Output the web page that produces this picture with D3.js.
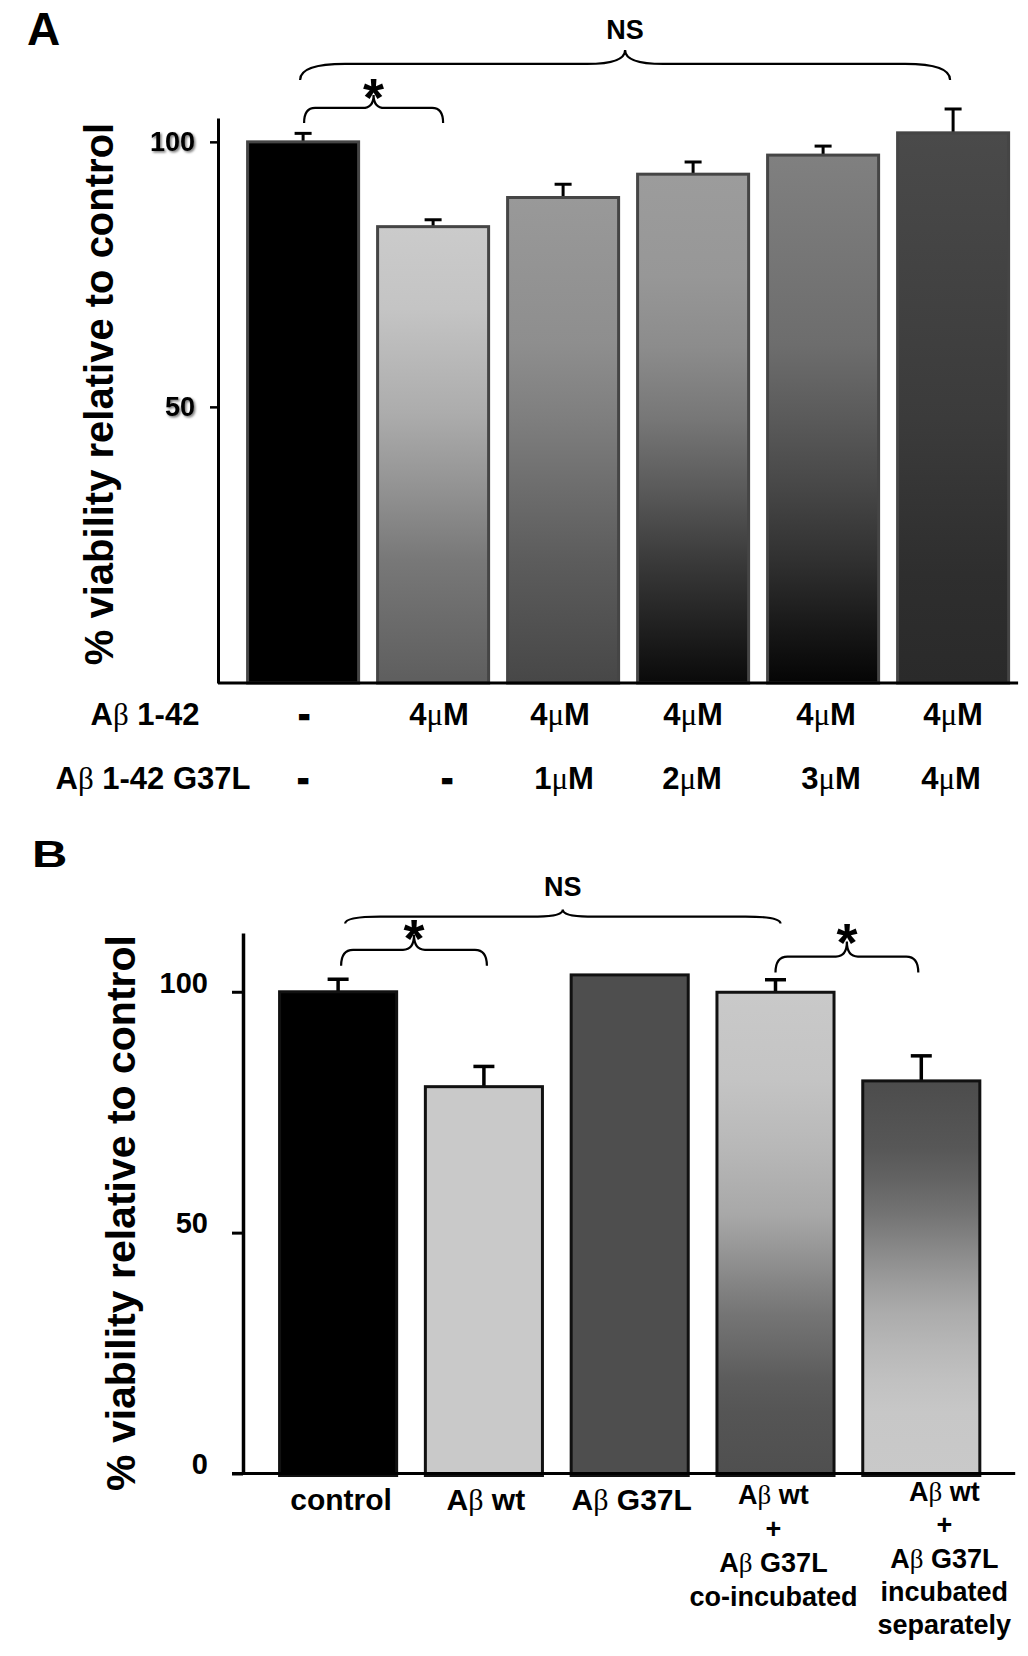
<!DOCTYPE html>
<html><head><meta charset="utf-8">
<script src="https://cdn.jsdelivr.net/npm/d3@7"></script>
<style>
html,body{margin:0;padding:0;background:#fff;}
svg{display:block;}
text{font-family:"Liberation Sans",Arial,Helvetica,sans-serif;font-weight:bold;fill:#000;}
tspan.greek{font-family:"Liberation Serif","Times New Roman",serif;font-weight:normal;}
</style></head><body>
<script>
// ---------------- DATA ----------------
// Panel A
const categoriesA = ["c0","c1","c2","c3","c4","c5"];
const valuesA = [100, 84.0, 89.5, 93.9, 97.5, 101.7];
const errorsA = [1.6, 1.3, 2.5, 2.3, 1.7, 4.5];
const ticksA = [50, 100];
const rowLabelsA = ["Aβ 1-42", "Aβ 1-42 G37L"];
const abDoseA = ["-", "4μM", "4μM", "4μM", "4μM", "4μM"];
const g37lDoseA = ["-", "-", "1μM", "2μM", "3μM", "4μM"];
const bracesA = [
  {from: 0, to: 5, level: 114.7, label: "NS"},
  {from: 0, to: 1, level: 106.4, label: "*"}
];
// Panel B
const categoriesB = ["control", "Aβ wt", "Aβ G37L", "co-incubated", "incubated separately"];
const labelLinesB = [
  ["control"],
  ["Aβ wt"],
  ["Aβ G37L"],
  ["Aβ wt", "+", "Aβ G37L", "co-incubated"],
  ["Aβ wt", "+", "Aβ G37L", "incubated", "separately"]
];
const valuesB = [100, 80.3, 103.5, 99.9, 81.5];
const errorsB = [2.6, 4.2, 0, 2.6, 5.2];
const ticksB = [0, 50, 100];
const bracesB = [
  {from: 0, to: 3, level: 115.6, label: "NS"},
  {from: 0, to: 1, level: 108.7, label: "*"},
  {from: 3, to: 4, level: 107.3, label: "*"}
];
const yTitle = "% viability relative to control";

// ---------------- STYLES ----------------
const fillsA = [
  [[0,"#000"],[1,"#000"]],
  [[0,"#cbcbcb"],[0.18,"#c4c4c4"],[0.41,"#acacac"],[0.57,"#939393"],[0.73,"#787878"],[1,"#5e5e5e"]],
  [[0,"#999999"],[0.3,"#8e8e8e"],[0.45,"#7f7f7f"],[0.6,"#6d6d6d"],[0.75,"#5c5c5c"],[1,"#474747"]],
  [[0,"#9c9c9c"],[0.2,"#979797"],[0.34,"#8c8c8c"],[0.48,"#777777"],[0.62,"#5a5a5a"],[0.76,"#3a3a3a"],[0.9,"#1e1e1e"],[1,"#0a0a0a"]],
  [[0,"#808080"],[0.36,"#6d6d6d"],[0.5,"#5a5a5a"],[0.63,"#474747"],[0.77,"#303030"],[0.9,"#171717"],[1,"#050505"]],
  [[0,"#4a4a4a"],[0.52,"#3b3b3b"],[0.8,"#2e2e2e"],[1,"#2a2a2a"]]
];
const fillsB = [
  [[0,"#000"],[1,"#000"]],
  [[0,"#c9c9c9"],[1,"#c9c9c9"]],
  [[0,"#4e4e4e"],[1,"#4e4e4e"]],
  [[0,"#c9c9c9"],[0.18,"#c4c4c4"],[0.32,"#b8b8b8"],[0.46,"#a8a8a8"],[0.53,"#979797"],[0.6,"#858585"],[0.67,"#747474"],[0.74,"#686868"],[0.8,"#5c5c5c"],[0.87,"#555555"],[1,"#4f4f4f"]],
  [[0,"#4c4c4c"],[0.17,"#575757"],[0.25,"#636363"],[0.34,"#747474"],[0.42,"#878787"],[0.51,"#9c9c9c"],[0.59,"#acacac"],[0.68,"#b8b8b8"],[0.76,"#c1c1c1"],[0.84,"#c7c7c7"],[1,"#c9c9c9"]]
];
const braceStyleA = [
  {dx1:-3, dx2:-3, drop:16, rise:14, curl:45, peak:38, gap:11, size:27},
  {dx1:1, dx2:10, drop:15, rise:13, curl:11, peak:11, gap:-21, size:54}
];
const braceStyleB = [
  {dx1:7, dx2:5, drop:7, rise:7, curl:35, peak:25, gap:14, size:27},
  {dx1:3, dx2:3, drop:16, rise:15, curl:12, peak:11, gap:-22, size:54},
  {dx1:0, dx2:-3, drop:16, rise:15, curl:12, peak:11, gap:-19, size:54}
];
const row1DxA = [1, 6, -3, 0, 3, 0];
const row2DxA = [0, 14, 1, -1, 8, -2];
const labelDxB = [3, 2, 2, -2, 23];

// ---------------- SVG ----------------
const W = 1028, H = 1656;
const svg = d3.select("body").append("svg").attr("width", W).attr("height", H);
svg.append("rect").attr("width", W).attr("height", H).attr("fill", "#fff");
const defs = svg.append("defs");
const f = defs.append("filter").attr("id","shadow").attr("x","-20%").attr("y","-20%").attr("width","150%").attr("height","150%");
f.append("feDropShadow").attr("dx",1.5).attr("dy",1.5).attr("stdDeviation",0.9)
  .attr("flood-color","#000").attr("flood-opacity",0.55);

function makeGrad(id, stops) {
  const g = defs.append("linearGradient").attr("id", id)
    .attr("x1",0).attr("y1",0).attr("x2",0).attr("y2",1);
  stops.forEach(s => g.append("stop").attr("offset", s[0]).attr("stop-color", s[1]));
}
fillsA.forEach((s,i) => makeGrad("gA"+i, s));
fillsB.forEach((s,i) => makeGrad("gB"+i, s));

function richText(sel, str) {
  str.split(/([βμ])/).filter(p => p.length).forEach(p => {
    const t = sel.append("tspan").text(p);
    if (/[βμ]/.test(p)) t.attr("class", "greek");
  });
}

function bracePath(x1, x2, y, s) {
  const xm = (x1 + x2) / 2;
  return `M${x1},${y + s.drop} Q${x1},${y} ${x1 + s.curl},${y} L${xm - s.peak},${y} ` +
    `Q${xm},${y} ${xm},${y - s.rise} Q${xm},${y} ${xm + s.peak},${y} L${x2 - s.curl},${y} ` +
    `Q${x2},${y} ${x2},${y + s.drop}`;
}

function drawBraces(g, cats, braces, styles, x, y) {
  braces.forEach((b, i) => {
    const s = styles[i];
    const x1 = x(cats[b.from]) + x.bandwidth() / 2 + s.dx1;
    const x2 = x(cats[b.to]) + x.bandwidth() / 2 + s.dx2;
    const yy = y(b.level);
    g.append("path").attr("d", bracePath(x1, x2, yy, s))
      .attr("fill", "none").attr("stroke", "#000").attr("stroke-width", 2.2);
    g.append("text").attr("x", (x1 + x2) / 2).attr("y", yy - s.rise - s.gap)
      .attr("text-anchor", "middle").style("font-size", s.size + "px").text(b.label);
  });
}

// ================= PANEL A =================
const gA = svg.append("g");
const xA = d3.scaleBand().domain(categoriesA).range([238.1, 1018.1]).paddingInner(0.146).paddingOuter(0.073);
const floorA = -2.1;
const yA = d3.scaleLinear().domain([floorA, 104.5]).range([683, 118]);

gA.append("text").attr("x", 27).attr("y", 45).style("font-size", "46px").text("A");

const errA = gA.append("g");
valuesA.forEach((v, i) => {
  const cx = xA(categoriesA[i]) + xA.bandwidth() / 2;
  errA.append("line").attr("x1", cx).attr("x2", cx).attr("y1", yA(v)).attr("y2", yA(v + errorsA[i]))
    .attr("stroke", "#000").attr("stroke-width", 3);
  errA.append("line").attr("x1", cx - 8.5).attr("x2", cx + 8.5).attr("y1", yA(v + errorsA[i])).attr("y2", yA(v + errorsA[i]))
    .attr("stroke", "#000").attr("stroke-width", 3);
});
gA.append("g").selectAll("rect").data(valuesA).join("rect")
  .attr("x", (d, i) => xA(categoriesA[i]))
  .attr("y", d => yA(d))
  .attr("width", xA.bandwidth())
  .attr("height", d => yA(floorA) - yA(d))
  .attr("fill", (d, i) => `url(#gA${i})`)
  .attr("stroke", "#454545").attr("stroke-width", 3);

const axA = gA.append("g").attr("transform", "translate(218,0)")
  .call(d3.axisLeft(yA).tickValues(ticksA).tickSize(8).tickSizeOuter(0).tickPadding(15));
axA.attr("font-family", null).attr("font-size", null);
axA.select(".domain").attr("stroke", "#000").attr("stroke-width", 3);
axA.selectAll(".tick line").attr("stroke", "#000").attr("stroke-width", 2.5);
axA.selectAll(".tick text").style("font-size", "27px").attr("fill", "#000").attr("filter", "url(#shadow)");
gA.append("line").attr("x1", 218).attr("x2", xA.range()[1]).attr("y1", yA(floorA)).attr("y2", yA(floorA))
  .attr("stroke", "#000").attr("stroke-width", 3);

gA.append("text").attr("transform", "translate(113,394) rotate(-90)")
  .attr("text-anchor", "middle").style("font-size", "40px").text(yTitle);

const rowY = [725, 789];
rowLabelsA.forEach((l, r) => {
  const t = gA.append("text").attr("x", r === 0 ? 145 : 153).attr("y", rowY[r])
    .attr("text-anchor", "middle").style("font-size", "31px");
  richText(t, l);
});
[abDoseA, g37lDoseA].forEach((row, r) => {
  const dx = r === 0 ? row1DxA : row2DxA;
  row.forEach((lab, i) => {
    const t = gA.append("text").attr("x", xA(categoriesA[i]) + xA.bandwidth() / 2 + dx[i]).attr("y", rowY[r])
      .attr("text-anchor", "middle").style("font-size", "31px");
    richText(t, lab);
    if (lab === "-") t.attr("stroke", "#000").attr("stroke-width", 2.5);
  });
});

drawBraces(gA, categoriesA, bracesA, braceStyleA, xA, yA);

// ================= PANEL B =================
const gB = svg.append("g");
const xB = d3.scaleBand().domain(categoriesB).range([265.2, 994.2]).paddingInner(0.197).paddingOuter(0.0986);
const yB = d3.scaleLinear().domain([0, 112.2]).range([1473.5, 933]);

gB.append("text").attr("transform", "translate(32,867) scale(1.36,1)").style("font-size", "36px").text("B");

const errB = gB.append("g");
valuesB.forEach((v, i) => {
  if (!errorsB[i]) return;
  const cx = xB(categoriesB[i]) + xB.bandwidth() / 2;
  errB.append("line").attr("x1", cx).attr("x2", cx).attr("y1", yB(v)).attr("y2", yB(v + errorsB[i]))
    .attr("stroke", "#000").attr("stroke-width", 3.5);
  errB.append("line").attr("x1", cx - 10.5).attr("x2", cx + 10.5).attr("y1", yB(v + errorsB[i])).attr("y2", yB(v + errorsB[i]))
    .attr("stroke", "#000").attr("stroke-width", 3.5);
});
gB.append("g").selectAll("rect").data(valuesB).join("rect")
  .attr("x", (d, i) => xB(categoriesB[i]))
  .attr("y", d => yB(d))
  .attr("width", xB.bandwidth())
  .attr("height", d => yB(0) - yB(d) + 2)
  .attr("fill", (d, i) => `url(#gB${i})`)
  .attr("stroke", "#111").attr("stroke-width", 3);

const axB = gB.append("g").attr("transform", "translate(243,0)")
  .call(d3.axisLeft(yB).tickValues(ticksB).tickSize(11).tickSizeOuter(0).tickPadding(24));
axB.attr("font-family", null).attr("font-size", null);
axB.select(".domain").attr("stroke", "#000").attr("stroke-width", 3.5);
axB.selectAll(".tick line").attr("stroke", "#000").attr("stroke-width", 3);
axB.selectAll(".tick text").style("font-size", "29px").attr("fill", "#000").attr("y", -9);
gB.append("line").attr("x1", 232).attr("x2", xB.range()[1] + 21).attr("y1", yB(0)).attr("y2", yB(0))
  .attr("stroke", "#000").attr("stroke-width", 3);

gB.append("text").attr("transform", "translate(135,1213) rotate(-90)")
  .attr("text-anchor", "middle").style("font-size", "41px").text(yTitle);

labelLinesB.forEach((lines, i) => {
  const cx = xB(categoriesB[i]) + xB.bandwidth() / 2 + labelDxB[i];
  const multi = lines.length > 1;
  const y0 = multi ? (i === 3 ? 1504 : 1501) : 1510;
  const step = i === 3 ? 34 : 33.3;
  lines.forEach((l, k) => {
    const t = gB.append("text").attr("x", cx).attr("y", y0 + k * step)
      .attr("text-anchor", "middle").style("font-size", multi ? "27px" : "30px");
    richText(t, l);
  });
});

drawBraces(gB, categoriesB, bracesB, braceStyleB, xB, yB);
</script>
</body></html>
